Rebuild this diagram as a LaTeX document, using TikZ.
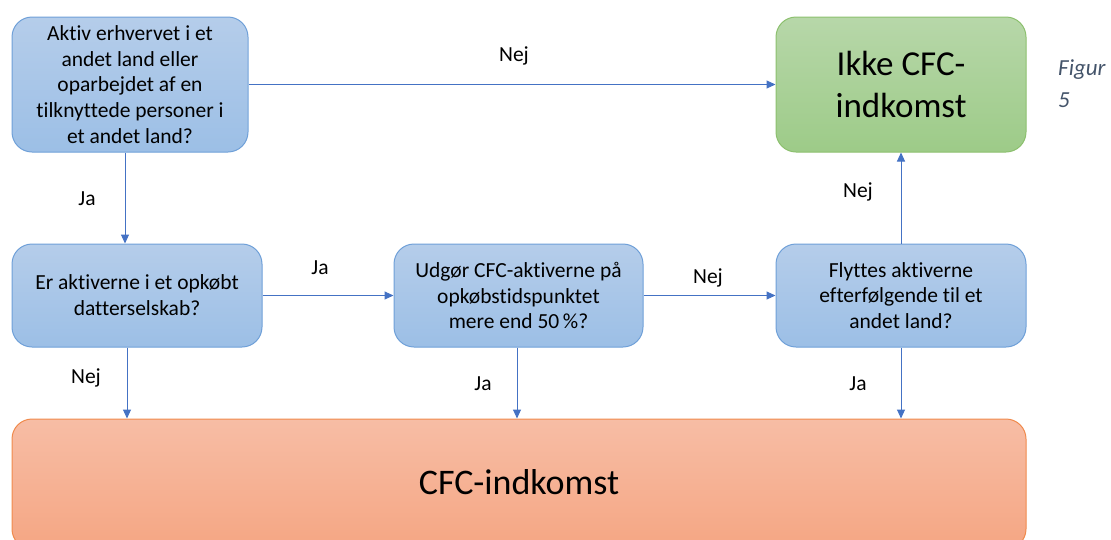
\documentclass[tikz,border=0pt]{standalone}
\usepackage{fontspec}
\setmainfont[Ligatures=NoCommon]{Carlito}
\usetikzlibrary{arrows.meta}
\definecolor{arrowblue}{HTML}{4472C4}
\definecolor{qtop}{HTML}{B5CDEA}
\definecolor{qbot}{HTML}{9CBFE6}
\definecolor{qline}{HTML}{6FA0D8}
\definecolor{gtop}{HTML}{B7D7A9}
\definecolor{gbot}{HTML}{9DCB88}
\definecolor{gline}{HTML}{8CC06E}
\definecolor{otop}{HTML}{F7BDA5}
\definecolor{obot}{HTML}{F5A683}
\definecolor{oline}{HTML}{F08A4C}
\definecolor{captext}{HTML}{44546A}
\tikzset{
  question/.style={draw=qline, line width=1pt, rounded corners=20pt,
    top color=qtop, bottom color=qbot, align=center, inner sep=0pt,
    font=\fontsize{21.5}{25.8}\selectfont, text=black},
  outcomeno/.style={draw=gline, line width=1pt, rounded corners=20pt,
    top color=gtop, bottom color=gbot, align=center,
    font=\fontsize{35}{42}\selectfont, text=black},
  outcomeyes/.style={draw=oline, line width=1pt, rounded corners=20pt,
    top color=otop, bottom color=obot},
  flow/.style={draw=arrowblue, line width=1pt,
    -{Triangle[length=9pt,width=8pt]}},
  answer/.style={font=\fontsize{21.5}{24}\selectfont, text=black}
}
\begin{document}
\begin{tikzpicture}[x=1pt,y=-1pt]
\useasboundingbox (0,0) rectangle (1111,539);
% question boxes
\node[question, minimum width=236pt, minimum height=135pt] (acq) at (130,84.5)
  {Aktiv erhvervet i et\\andet land eller\\oparbejdet af en\\tilknyttede personer i\\et andet land?};
\node[question, minimum width=250pt, minimum height=103pt] (sub) at (137,295.5)
  {Er aktiverne i et opkøbt\\datterselskab?};
\node[question, minimum width=249pt, minimum height=103pt] (share) at (518.5,295.5)
  {Udgør CFC-aktiverne på\\opkøbstidspunktet\\mere end 50\,\%?};
\node[question, minimum width=250pt, minimum height=103pt] (moved) at (901,295.5)
  {Flyttes aktiverne\\efterfølgende til et\\andet land?};
% outcomes
\node[outcomeno, minimum width=250pt, minimum height=135pt] (notcfc) at (901,84.5)
  {Ikke CFC-\\indkomst};
\node[outcomeyes, minimum width=1014pt, minimum height=130pt] (cfc) at (519,484)
  {};
\node[font=\fontsize{36}{40}\selectfont, text=black] (cfclabel) at (519,482) {CFC-indkomst};
% connectors
\draw[flow] (acq.east) -- (notcfc.west);
\draw[flow] ([xshift=-5pt]acq.south) -- ([xshift=-12pt]sub.north);
\draw[flow] (sub.east) -- (share.west);
\draw[flow] (share.east) -- (moved.west);
\draw[flow] (moved.north) -- (notcfc.south);
\draw[flow] ([xshift=-10pt]sub.south) -- ([xshift=-10pt]sub.south |- cfc.north);
\draw[flow] ([xshift=-1.5pt]share.south) -- ([xshift=-1.5pt]share.south |- cfc.north);
\draw[flow] (moved.south) -- (moved.south |- cfc.north);
% answer labels
\node[answer] (l1) at (514,56) {Nej};
\node[answer] (l2) at (87,199) {Ja};
\node[answer] (l3) at (320,268) {Ja};
\node[answer] (l4) at (708,278) {Nej};
\node[answer] (l5) at (858,192) {Nej};
\node[answer] (l6) at (86,378) {Nej};
\node[answer] (l7) at (483,384) {Ja};
\node[answer] (l8) at (858,384) {Ja};
% caption
\node[anchor=west, align=left, text=captext, inner sep=0pt,
  font=\fontsize{23}{32}\selectfont\itshape] (cap) at (1058,84) {Figur\\5};
\end{tikzpicture}
\end{document}
